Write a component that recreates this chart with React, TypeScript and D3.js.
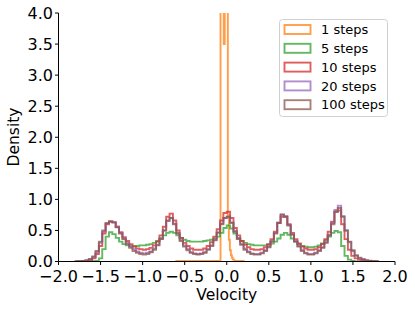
import React from 'react'
import * as d3 from 'd3'

const binStart = -1.8
const binWidth = 0.04

const xTicks = [-2.0, -1.5, -1.0, -0.5, 0.0, 0.5, 1.0, 1.5, 2.0]
const yTicks = [0.0, 0.5, 1.0, 1.5, 2.0, 2.5, 3.0, 3.5, 4.0]

const seriesNames = ['1 steps', '5 steps', '10 steps', '20 steps', '100 steps']
const seriesColors = ['#ff7f0e', '#2ca02c', '#d62728', '#9467bd', '#8c564b']

// 1 step: a very narrow spike, own bin edges
const oneStepEdges = [-0.6, -0.074, -0.036, -0.024, 0.013, 0.025, 0.037, 0.049, 0.061, 0.073, 0.09, 0.2]
const oneStepDensity = [0.01, 12, 3.5, 12, 0.74, 0.35, 0.18, 0.1, 0.06, 0.03, 0.01]

const fiveSteps = [
  0, 0, 0, 0, 0, 0.003, 0.01, 0.05, 0.20, 0.40,
  0.47, 0.44, 0.38, 0.32, 0.28, 0.26, 0.25, 0.25, 0.25, 0.26,
  0.26, 0.27, 0.28, 0.30, 0.33, 0.37, 0.42, 0.46, 0.48, 0.46,
  0.42, 0.38, 0.35, 0.33, 0.32, 0.32, 0.32, 0.32, 0.33, 0.34,
  0.35, 0.37, 0.40, 0.46, 0.54, 0.58, 0.53, 0.45, 0.38, 0.33,
  0.30, 0.28, 0.27, 0.26, 0.26, 0.26, 0.26, 0.27, 0.29, 0.32,
  0.37, 0.43, 0.46, 0.43, 0.37, 0.32, 0.28, 0.25, 0.24, 0.23,
  0.23, 0.24, 0.26, 0.29, 0.34, 0.40, 0.46, 0.49, 0.47, 0.25,
  0.09, 0.03, 0.01, 0, 0, 0, 0, 0, 0, 0,
]

const tenSteps = [
  0.0, 0.002, 0.005, 0.01, 0.02, 0.05, 0.12, 0.25, 0.45, 0.60,
  0.64, 0.63, 0.56, 0.47, 0.39, 0.33, 0.28, 0.24, 0.21, 0.20,
  0.19, 0.20, 0.22, 0.26, 0.32, 0.42, 0.56, 0.72, 0.77, 0.66,
  0.50, 0.38, 0.30, 0.25, 0.21, 0.19, 0.19, 0.19, 0.21, 0.25,
  0.31, 0.40, 0.52, 0.66, 0.78, 0.80, 0.70, 0.54, 0.42, 0.33,
  0.27, 0.23, 0.20, 0.19, 0.19, 0.20, 0.23, 0.28, 0.36, 0.48,
  0.62, 0.72, 0.72, 0.60, 0.46, 0.36, 0.29, 0.24, 0.21, 0.19,
  0.19, 0.20, 0.23, 0.28, 0.36, 0.48, 0.64, 0.80, 0.82, 0.60,
  0.36, 0.19, 0.09, 0.05, 0.03, 0.015, 0.008, 0.004, 0.002, 0.0,
]

const twentySteps = [
  0.001, 0.004, 0.008, 0.016, 0.035, 0.07, 0.15, 0.30, 0.48, 0.61,
  0.64, 0.63, 0.56, 0.46, 0.37, 0.30, 0.24, 0.20, 0.16, 0.14,
  0.13, 0.14, 0.16, 0.21, 0.27, 0.37, 0.50, 0.65, 0.70, 0.61,
  0.46, 0.35, 0.26, 0.20, 0.15, 0.13, 0.12, 0.13, 0.15, 0.20,
  0.26, 0.35, 0.47, 0.61, 0.70, 0.72, 0.63, 0.49, 0.37, 0.28,
  0.21, 0.16, 0.13, 0.12, 0.12, 0.14, 0.18, 0.24, 0.33, 0.46,
  0.63, 0.76, 0.73, 0.59, 0.44, 0.33, 0.25, 0.19, 0.14, 0.12,
  0.12, 0.14, 0.18, 0.23, 0.31, 0.43, 0.62, 0.83, 0.90, 0.73,
  0.50, 0.31, 0.17, 0.09, 0.05, 0.03, 0.018, 0.01, 0.005, 0.002,
]

const hundredSteps = [
  0.002, 0.005, 0.01, 0.02, 0.04, 0.08, 0.17, 0.32, 0.50, 0.62,
  0.65, 0.63, 0.55, 0.45, 0.36, 0.28, 0.22, 0.17, 0.14, 0.12,
  0.11, 0.12, 0.15, 0.19, 0.26, 0.36, 0.50, 0.66, 0.70, 0.60,
  0.45, 0.33, 0.24, 0.18, 0.14, 0.12, 0.11, 0.12, 0.14, 0.19,
  0.25, 0.34, 0.46, 0.60, 0.70, 0.72, 0.62, 0.48, 0.36, 0.27,
  0.19, 0.15, 0.12, 0.11, 0.11, 0.13, 0.17, 0.23, 0.32, 0.45,
  0.62, 0.75, 0.72, 0.58, 0.43, 0.32, 0.24, 0.17, 0.13, 0.11,
  0.11, 0.13, 0.17, 0.22, 0.30, 0.42, 0.60, 0.80, 0.86, 0.72,
  0.50, 0.32, 0.18, 0.10, 0.06, 0.04, 0.02, 0.012, 0.006, 0.002,
]

const W = 415
const H = 310
const plot = { left: 58.5, right: 395, top: 13, bottom: 261.5 }
const font = 'DejaVu Sans, sans-serif'

const x = d3.scaleLinear().domain([-2, 2]).range([plot.left, plot.right])
const y = d3.scaleLinear().domain([0, 4]).range([plot.bottom, plot.top])
const fmt = d3.format('.1f')

const commonEdges = d3.range(0, fiveSteps.length + 1).map(i => binStart + i * binWidth)

function stepPoints(edges: number[], heights: number[]): [number, number][] {
  const pts: [number, number][] = [[edges[0], 0]]
  heights.forEach((h, i) => {
    pts.push([edges[i], h])
    pts.push([edges[i + 1], h])
  })
  pts.push([edges[edges.length - 1], 0])
  return pts
}

const line = d3.line<[number, number]>().x(d => x(d[0])).y(d => y(d[1]))

const histograms = [
  stepPoints(oneStepEdges, oneStepDensity),
  stepPoints(commonEdges, fiveSteps),
  stepPoints(commonEdges, tenSteps),
  stepPoints(commonEdges, twentySteps),
  stepPoints(commonEdges, hundredSteps),
]

export default function App() {
  return (
    <svg width={W} height={H} style={{ position: 'absolute', left: 0, top: 0, background: '#fff' }} fontFamily={font}>
      <defs>
        <clipPath id="plotclip">
          <rect x={plot.left} y={plot.top} width={plot.right - plot.left} height={plot.bottom - plot.top} />
        </clipPath>
      </defs>

      <g clipPath="url(#plotclip)">
        {histograms.map((pts, i) => (
          <path key={i} d={line(pts) || ''} fill="none" stroke={seriesColors[i]} strokeOpacity={0.75}
            strokeWidth={1.9} strokeLinejoin="miter" />
        ))}
      </g>

      {/* spines */}
      <line x1={plot.left} x2={plot.left} y1={plot.top} y2={plot.bottom} stroke="#000" strokeWidth={1} />
      <line x1={plot.left} x2={plot.right} y1={plot.bottom} y2={plot.bottom} stroke="#000" strokeWidth={1} />

      {/* x ticks */}
      {xTicks.map(t => (
        <g key={'x' + t} transform={`translate(${x(t)},${plot.bottom})`}>
          <line y1={0} y2={3.5} stroke="#000" />
          <text y={20.5} textAnchor="middle" fontSize={16}>{fmt(t)}</text>
        </g>
      ))}
      <text x={x(0)} y={300} textAnchor="middle" fontSize={15.5}>Velocity</text>

      {/* y ticks */}
      {yTicks.map(t => (
        <g key={'y' + t} transform={`translate(${plot.left},${y(t)})`}>
          <line x1={0} x2={-3.5} stroke="#000" />
          <text x={-5.5} dy="0.36em" textAnchor="end" fontSize={16}>{fmt(t)}</text>
        </g>
      ))}
      <text transform={`translate(19,137) rotate(-90)`} textAnchor="middle" fontSize={15.5}>Density</text>

      {/* legend */}
      <g>
        <rect x={279.5} y={19.5} width={108} height={97} rx={3} fill="#fff" fillOpacity={0.8} stroke="#d0d0d0" strokeWidth={1} />
        {seriesNames.map((name, i) => {
          const cy = 29.5 + i * 18.8
          return (
            <g key={name}>
              <rect x={284.5} y={cy - 4.5} width={26} height={9} fill="none" stroke={seriesColors[i]}
                strokeOpacity={0.75} strokeWidth={1.9} />
              <text x={321} y={cy} dy="0.36em" fontSize={13}>{name}</text>
            </g>
          )
        })}
      </g>
    </svg>
  )
}
